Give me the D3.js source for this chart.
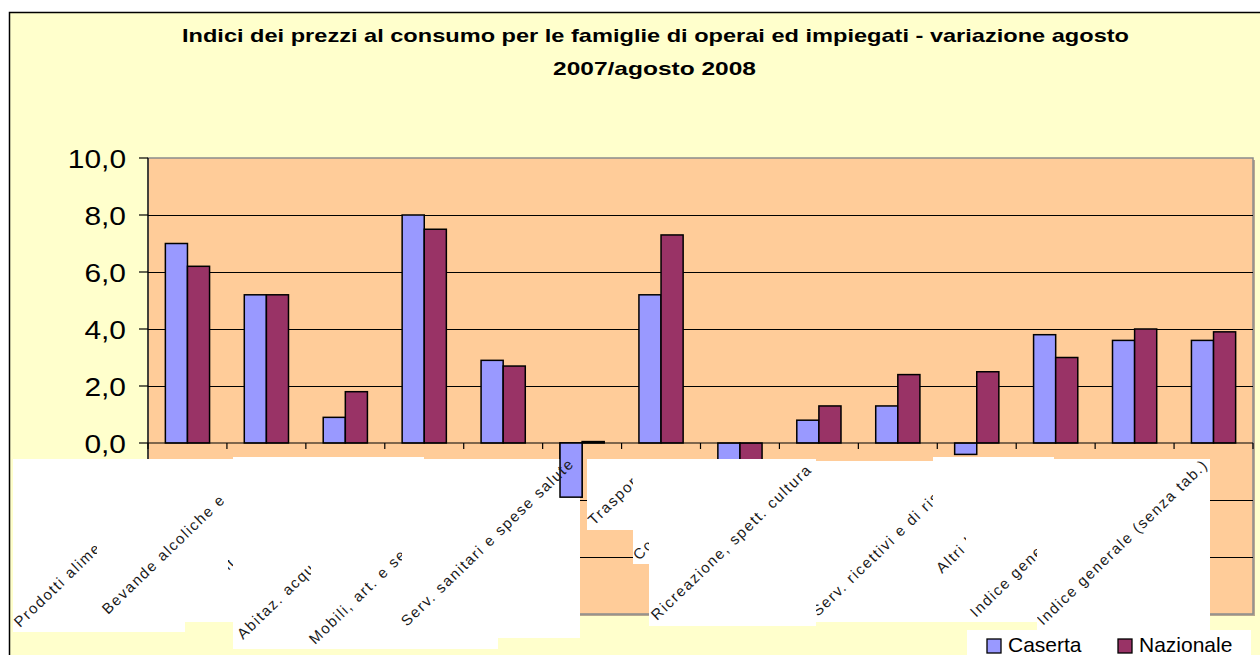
<!DOCTYPE html>
<html><head><meta charset="utf-8">
<script src="https://cdn.jsdelivr.net/npm/d3@7"></script>
<style>body{margin:0;background:#fff}svg{display:block}
.cl{font-family:"Liberation Sans",Arial,sans-serif;font-size:15px;letter-spacing:1.6px;fill:#1a1a1a}</style>
</head><body><svg id="c" width="1260" height="655"></svg>
<script>
// ---- data ----
const categories = [
  "Prodotti alimentari e bevande analcoliche",
  "Bevande alcoliche e tabacchi",
  "Abbigliamento e calzature",
  "Abitaz. acqua, elettricità e combustibili",
  "Mobili, art. e servizi per la casa",
  "Serv. sanitari e spese salute",
  "Trasporti",
  "Comunicazioni",
  "Ricreazione, spett. cultura",
  "Istruzione",
  "Serv. ricettivi e di ristorazione",
  "Altri beni e servizi",
  "Indice generale",
  "Indice generale (senza tab.)"
];
const caserta   = [7.0, 5.2, 0.9, 8.0, 2.9, -1.9, 5.2, -4.6, 0.8, 1.3, -0.4, 3.8, 3.6, 3.6];
const nazionale = [6.2, 5.2, 1.8, 7.5, 2.7, 0.05, 7.3, -4.4, 1.3, 2.4, 2.5, 3.0, 4.0, 3.9];
const seriesNames = ["Caserta", "Nazionale"];
const yTicks = [-6, -4, -2, 0, 2, 4, 6, 8, 10];
const titleLines = [
  "Indici dei prezzi al consumo per le famiglie di operai ed impiegati - variazione agosto",
  "2007/agosto 2008"
];

// ---- layout / style (not data) ----
const colors = {Caserta: "#9999FF", Nazionale: "#993366"};
const plot = {x0: 148, x1: 1253, y0: 158, y1: 614};
// white label panels (glitched category label boxes)
const panels = [
  [13,459,233,622],[13,459,185,632],[233,457,424,649],[424,459,580,638],[424,459,498,649],
  [587,459,633,530],[633,459,649,564],[649,459,816,626],[816,461,933,622],[933,457,1054,622],
  [1037,459,1210,630]
];
// per category: label start point and visible clip window
const labelLayout = [
  {sx:20,  sy:628, clip:[13,455,97,640]},
  {sx:108, sy:615, clip:[13,455,224,632]},
  {sx:160, sy:637, clip:[228,560,233,575]},
  {sx:243, sy:640, clip:[233,457,311,649]},
  {sx:315, sy:645, clip:[300,457,402,649]},
  {sx:407, sy:627, clip:[400,455,584,650]},
  {sx:594, sy:526, clip:[587,459,633,530]},
  {sx:639, sy:561, clip:[633,459,649,564]},
  {sx:657, sy:621, clip:[649,455,818,626]},
  null,
  {sx:818, sy:617, clip:[816,461,933,622]},
  {sx:942, sy:574, clip:[933,457,966,622]},
  {sx:976, sy:618, clip:[933,457,1037,622]},
  {sx:1043,sy:626, clip:[1037,455,1212,630]}
];
const raised = [{cat: 5, series: "Caserta"}]; // bar that sits above the label panel

const svg = d3.select("#c");
const defs = svg.append("defs");

// chart area
svg.append("rect").attr("x",9.5).attr("y",12.5).attr("width",1300).attr("height",700)
  .attr("fill","#FFFFCC").attr("stroke","#000").attr("stroke-width",1.5);

// title
const tl = svg.append("g").attr("font-family","Liberation Sans, Arial, sans-serif")
  .attr("font-weight","bold").attr("font-size",19).attr("text-anchor","middle");
tl.append("text").attr("x",655.5).attr("y",42).attr("textLength",947)
  .attr("lengthAdjust","spacingAndGlyphs").text(titleLines[0]);
tl.append("text").attr("x",654.5).attr("y",75).attr("textLength",203)
  .attr("lengthAdjust","spacingAndGlyphs").text(titleLines[1]);

// scales
const y = d3.scaleLinear().domain([-6, 10]).range([plot.y1, plot.y0]);
const x0 = d3.scaleBand().domain(categories).range([plot.x0, plot.x1])
  .paddingInner(0.44).paddingOuter(0.22);
const x1 = d3.scaleBand().domain(seriesNames).range([0, x0.bandwidth()]);
const step = x0.step();

// plot area
svg.append("rect").attr("x",plot.x0+2).attr("y",plot.y0+2).attr("width",plot.x1-plot.x0)
  .attr("height",plot.y1-plot.y0).attr("fill","#b8a890");
svg.append("rect").attr("x",plot.x0).attr("y",plot.y0).attr("width",plot.x1-plot.x0)
  .attr("height",plot.y1-plot.y0).attr("fill","#FFCC99").attr("stroke","#8c8c8c").attr("stroke-width",1.5);

// gridlines
svg.append("g").selectAll("line").data(yTicks.filter(t => t !== 0 && t !== 10 && t !== -6)).join("line")
  .attr("x1",plot.x0).attr("x2",plot.x1).attr("y1",d=>Math.round(y(d))+0.5).attr("y2",d=>Math.round(y(d))+0.5)
  .attr("stroke","#000").attr("stroke-width",1);

// bars
const rows = categories.map((c,i)=>({cat:c, i, values:[{s:"Caserta",v:caserta[i]},{s:"Nazionale",v:nazionale[i]}]}));
function drawBars(g, filterFn){
  const items = [];
  rows.forEach(r => r.values.forEach(d => { if (filterFn(r, d)) items.push({cat:r.cat, s:d.s, v:d.v}); }));
  g.selectAll("rect").data(items).join("rect")
    .attr("x", d => x0(d.cat) + x1(d.s))
    .attr("width", x1.bandwidth())
    .attr("y", d => y(Math.max(0, d.v)))
    .attr("height", d => Math.max(1.2, Math.abs(y(d.v) - y(0))))
    .attr("fill", d => colors[d.s]).attr("stroke","#000").attr("stroke-width",1.5);
}
drawBars(svg.append("g"), () => true);

// axes
const ax = svg.append("g").attr("stroke","#000").attr("stroke-width",1.2);
ax.append("line").attr("x1",plot.x0).attr("x2",plot.x0).attr("y1",plot.y0).attr("y2",plot.y1);
ax.append("line").attr("x1",plot.x0).attr("x2",plot.x1).attr("y1",y(0)).attr("y2",y(0));
ax.selectAll(".yt").data(yTicks).join("line").attr("class","yt")
  .attr("x1",plot.x0-9).attr("x2",plot.x0).attr("y1",d=>y(d)).attr("y2",d=>y(d));
ax.selectAll(".xt").data(d3.range(categories.length+1)).join("line").attr("class","xt")
  .attr("x1",k=>plot.x0+k*step).attr("x2",k=>plot.x0+k*step).attr("y1",y(0)).attr("y2",y(0)+6);

const fmt = d3.format(".1f");
svg.append("g").attr("font-family","Liberation Sans, Arial, sans-serif").attr("font-size",26)
  .attr("text-anchor","end").attr("fill","#000")
  .selectAll("text").data(yTicks).join("text")
  .attr("transform", d => `translate(126,${y(d)+10}) scale(1.15,1)`)
  .text(d => fmt(d).replace(".", ","));

// label panels
svg.append("g").selectAll("rect").data(panels).join("rect")
  .attr("x",d=>d[0]).attr("y",d=>d[1]).attr("width",d=>d[2]-d[0]).attr("height",d=>d[3]-d[1])
  .attr("fill","#fff");

// raised bar(s): above the panel, below the labels
drawBars(svg.append("g"), (r, d) => raised.some(q => q.cat === r.i && q.series === d.s));

// category labels
const lg = svg.append("g");
categories.forEach((c, i) => {
  const L = labelLayout[i];
  if (!L) return;
  const id = "lc" + i;
  defs.append("clipPath").attr("id", id).append("rect")
    .attr("x",L.clip[0]).attr("y",L.clip[1]).attr("width",L.clip[2]-L.clip[0]).attr("height",L.clip[3]-L.clip[1]);
  lg.append("g").attr("clip-path",`url(#${id})`).append("text").attr("class","cl")
    .attr("transform",`translate(${L.sx},${L.sy}) rotate(-44)`).text(c);
});

// legend
const leg = svg.append("g");
leg.append("rect").attr("x",967).attr("y",630).attr("width",284).attr("height",40).attr("fill","#fff");
const li = leg.selectAll("g").data(seriesNames).join("g")
  .attr("transform",(d,i)=>`translate(${987 + i*131},639)`);
li.append("rect").attr("width",14).attr("height",14).attr("fill",d=>colors[d]).attr("stroke","#000").attr("stroke-width",1.3);
li.append("text").attr("x",21).attr("y",13).attr("font-family","Liberation Sans, Arial, sans-serif")
  .attr("font-size",21).attr("fill","#000").text(d=>d);
</script></body></html>
